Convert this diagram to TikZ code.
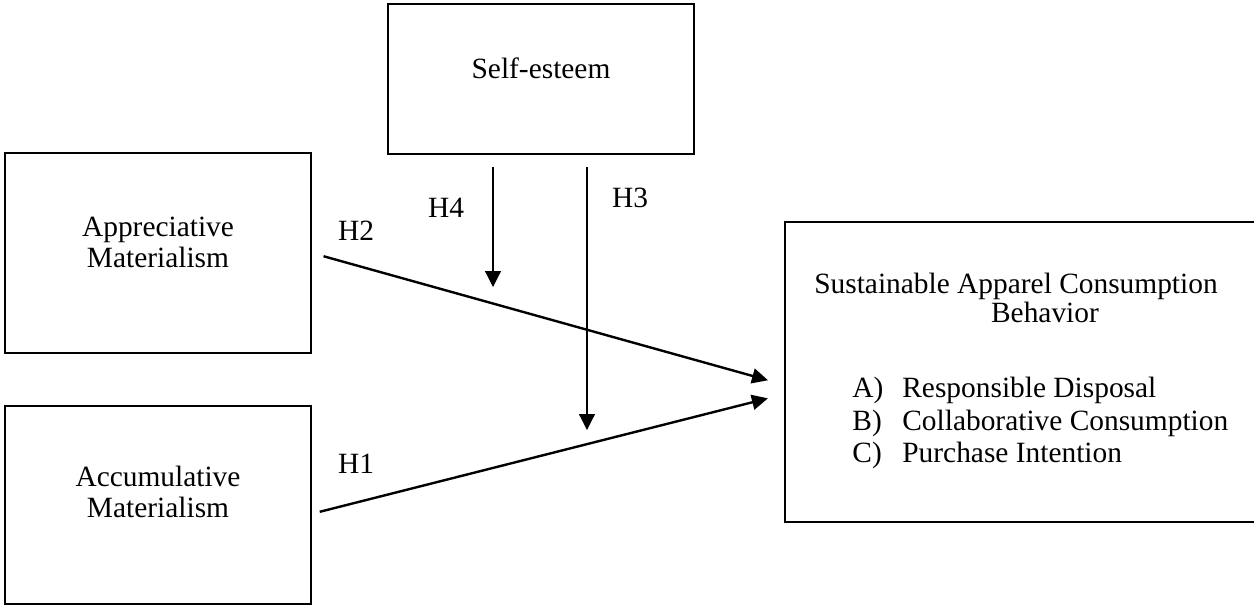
\documentclass[tikz,border=0pt]{standalone}
\usepackage{fontspec}
\setmainfont{Liberation Serif}
\usetikzlibrary{arrows.meta}
\begin{document}
\begin{tikzpicture}[x=0.5pt,y=-0.5pt,
  box/.style={draw,line width=1pt,inner sep=0pt},
  txt/.style={inner sep=0pt,anchor=base,font=\fontsize{14.7}{15.5}\selectfont},
  path/.style={line width=1.2pt,-{Triangle[length=8pt,width=7.5pt]}},
  modpath/.style={line width=0.6pt,-{Triangle[length=8pt,width=8pt]}}]
\useasboundingbox (0,0) rectangle (1254,606);
% boxes
\node[box,minimum width=153pt,minimum height=75pt](selfesteem) at (541,79){};
\node[box,minimum width=153pt,minimum height=100pt](apprec) at (158,253){};
\node[box,minimum width=153pt,minimum height=99pt](accum) at (158,505){};
\node[box,minimum width=236pt,minimum height=150pt](sacb) at (1021,372){};
% texts
\node[txt](selftxt) at (541,78){Self-esteem};
\node[txt,align=center](apptxt) at (158,267){Appreciative\\Materialism};
\node[txt,align=center](acctxt) at (158,517){Accumulative\\Materialism};
\node[txt](sacbtitle) at (1016,293){Sustainable Apparel Consumption};
\node[txt](sacbsub) at (1045,322){Behavior};
\node[txt,anchor=base west](itema) at (852,397){\makebox[25pt][l]{A)}Responsible Disposal};
\node[txt,anchor=base west](itemb) at (852,430){\makebox[25pt][l]{B)}Collaborative Consumption};
\node[txt,anchor=base west](itemc) at (852,462){\makebox[25pt][l]{C)}Purchase Intention};
% arrow ends
\coordinate (h1from) at (311,514);
\coordinate (h1to) at (785,394);
\coordinate (h2to) at (785,385);
\coordinate (h4to) at (493,287);
\coordinate (h3to) at (587,430);
% paths
\draw[path,shorten <=6pt,shorten >=8.8pt] (apprec.east) -- (h2to);
\draw[path,shorten <=4.5pt,shorten >=8.8pt] (h1from) -- (h1to);
\draw[modpath,shorten <=6pt] (selfesteem.south -| h4to) -- (h4to);
\draw[modpath,shorten <=6pt] (selfesteem.south -| h3to) -- (h3to);
% hypotheses
\node[txt](h1) at (356,473){H1};
\node[txt](h2) at (356,240){H2};
\node[txt](h3) at (630,207){H3};
\node[txt](h4) at (446,217){H4};
\end{tikzpicture}
\end{document}
